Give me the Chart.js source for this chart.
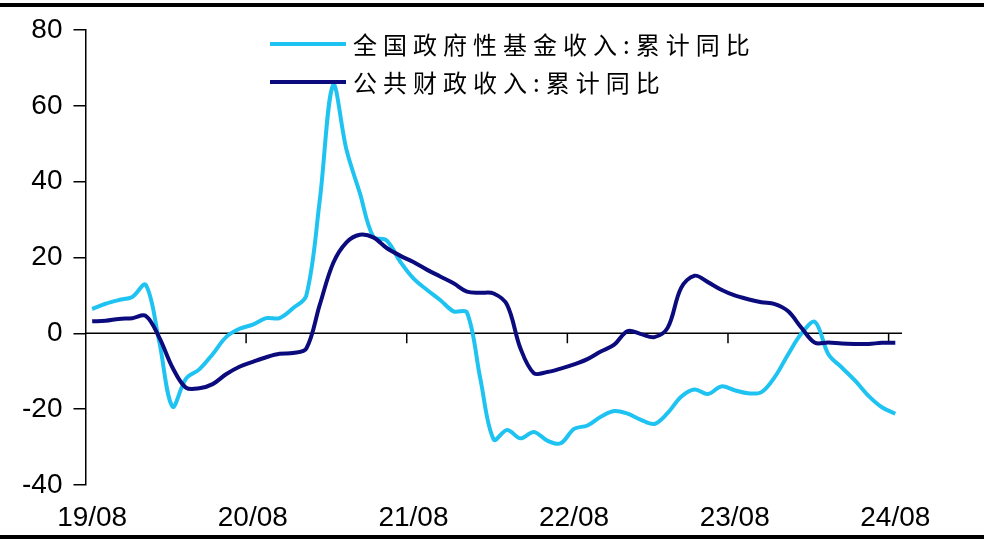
<!DOCTYPE html>
<html>
<head>
<meta charset="utf-8">
<script src="https://cdn.jsdelivr.net/npm/chart.js@4.4.1/dist/chart.umd.min.js"></script>
<style>
  html, body { margin: 0; padding: 0; background: #fff; }
  #wrap { position: relative; width: 984px; height: 542px; overflow: hidden; }
  #wrap canvas { position: absolute; left: 0; top: 0; }
  .rule { position: absolute; left: 0; width: 984px; height: 4px; background: #000; }
</style>
</head>
<body>
<div id="wrap">
  <canvas id="chart" width="984" height="542"></canvas>
  <div class="rule" style="top:3px"></div>
  <div class="rule" style="top:535px"></div>
</div>
<script>
// monthly, 2019/08 .. 2024/08
var months = [
  '19/08','19/09','19/10','19/11','19/12',
  '20/01','20/02','20/03','20/04','20/05','20/06','20/07','20/08','20/09','20/10','20/11','20/12',
  '21/01','21/02','21/03','21/04','21/05','21/06','21/07','21/08','21/09','21/10','21/11','21/12',
  '22/01','22/02','22/03','22/04','22/05','22/06','22/07','22/08','22/09','22/10','22/11','22/12',
  '23/01','23/02','23/03','23/04','23/05','23/06','23/07','23/08','23/09','23/10','23/11','23/12',
  '24/01','24/02','24/03','24/04','24/05','24/06','24/07','24/08'
];

var seriesNames = ['全国政府性基金收入:累计同比', '公共财政收入:累计同比'];
var seriesColors = ['#1fc3f2', '#0b0b7e'];

var fundRevenue = [
  6.4, 7.8, 8.8, 9.6, 12.8,
  -2, -19.3, -12, -9.5, -5.5, -1, 1.2, 2.3, 4.0, 4.0, 6.6, 10,
  35, 65.5, 48.4, 37, 25.5, 24.5, 19, 14.5, 11.5, 8.8, 5.8, 5.5,
  -12, -28, -25.5, -27.7, -26, -28.3, -29, -25.2, -24.3, -22, -20.5, -21.2,
  -22.8, -23.9, -21, -16.7, -14.8, -16, -14, -15, -15.8, -15.5, -11.5, -5.5,
  0, 3, -5.5, -9, -12.5, -16.5, -19.5, -21.2
];

var publicRevenue = [
  3.2, 3.3, 3.8, 4.0, 4.6,
  -1, -9, -14.3, -14.5, -13.4, -10.8, -8.8, -7.5, -6.3, -5.4, -5.2, -4,
  7.5, 18.5, 24, 26, 25.3, 22.5, 20.5, 18.8, 16.8, 15, 13.2, 11,
  10.7, 10.5, 7.5, -4, -10.5, -10.2, -9.3, -8.2, -6.8, -4.8, -3, 0.6,
  -0.2, -1, 1.5, 12, 15.2, 13.5, 11.5, 10, 9, 8.2, 7.7, 5.8,
  1.4, -2.5, -2.4, -2.7, -2.8, -2.8, -2.5, -2.5
];

var yMin = -40;
var yMax = 80;
var yStep = 20;

var tickFont = { family: '"Liberation Sans", Arial, sans-serif', size: 28 };

// x axis line sits on y = 0, with a tick mark at the start of every year (08 months)
var zeroAxisPlugin = {
  id: 'zeroAxis',
  beforeDatasetsDraw: function(chart) {
    var ctx = chart.ctx;
    var xs = chart.scales.x;
    var y0 = chart.scales.y.getPixelForValue(0);
    var half = (xs.getPixelForValue(1) - xs.getPixelForValue(0)) / 2;
    ctx.save();
    ctx.strokeStyle = '#000';
    ctx.lineWidth = 1.5;
    ctx.beginPath();
    ctx.moveTo(chart.chartArea.left, y0);
    ctx.lineTo(chart.chartArea.right, y0);
    for (var i = 12; i < months.length; i += 12) {
      var px = xs.getPixelForValue(i) - half;
      ctx.moveTo(px, y0);
      ctx.lineTo(px, y0 + 10);
    }
    ctx.stroke();
    ctx.restore();
  }
};

// legend drawn by hand: two stacked rows, letter-spaced CJK text
var legendPlugin = {
  id: 'stackedLegend',
  afterDraw: function(chart) {
    var ctx = chart.ctx;
    ctx.save();
    ctx.font = '24px "Noto Sans CJK SC"';
    ctx.letterSpacing = '6px';
    ctx.textBaseline = 'middle';
    ctx.fillStyle = '#000';
    chart.data.datasets.forEach(function(ds, i) {
      var y = 44 + i * 38;
      ctx.strokeStyle = ds.borderColor;
      ctx.lineWidth = 4;
      ctx.beginPath();
      ctx.moveTo(270, y);
      ctx.lineTo(346, y);
      ctx.stroke();
      ctx.fillText(ds.label, 353, y + 1);
    });
    ctx.restore();
  }
};

var ctx = document.getElementById('chart').getContext('2d');
var chart = new Chart(ctx, {
  type: 'line',
  data: {
    labels: months,
    datasets: [{
      label: seriesNames[0],
      data: fundRevenue,
      borderColor: seriesColors[0],
      borderWidth: 4,
      pointRadius: 0,
      tension: 0.35,
      order: 1
    }, {
      label: seriesNames[1],
      data: publicRevenue,
      borderColor: seriesColors[1],
      borderWidth: 4,
      pointRadius: 0,
      tension: 0.35,
      order: 0
    }]
  },
  options: {
    responsive: false,
    animation: false,
    // chart.js reserves tick padding twice, so left/bottom are trimmed to put the plot at 86..902 x 30..485
    layout: { padding: { left: 11, right: 82, top: 30, bottom: -8.6 } },
    plugins: {
      legend: { display: false },
      tooltip: { enabled: false }
    },
    scales: {
      x: {
        type: 'category',
        offset: true,
        grid: { display: false, drawTicks: false },
        border: { display: false },
        ticks: {
          autoSkip: false,
          maxRotation: 0,
          padding: 16,
          color: '#000',
          font: tickFont,
          callback: function(value, index) {
            return index % 12 === 0 ? months[index] : null;
          }
        }
      },
      y: {
        min: yMin,
        max: yMax,
        ticks: {
          stepSize: yStep,
          padding: 11,
          color: '#000',
          font: tickFont
        },
        border: { display: true, color: '#000', width: 1.5 },
        grid: {
          drawOnChartArea: false,
          drawTicks: true,
          tickLength: 12,
          lineWidth: 1.5,
          color: '#000'
        }
      }
    }
  },
  plugins: [zeroAxisPlugin, legendPlugin]
});
</script>
</body>
</html>
